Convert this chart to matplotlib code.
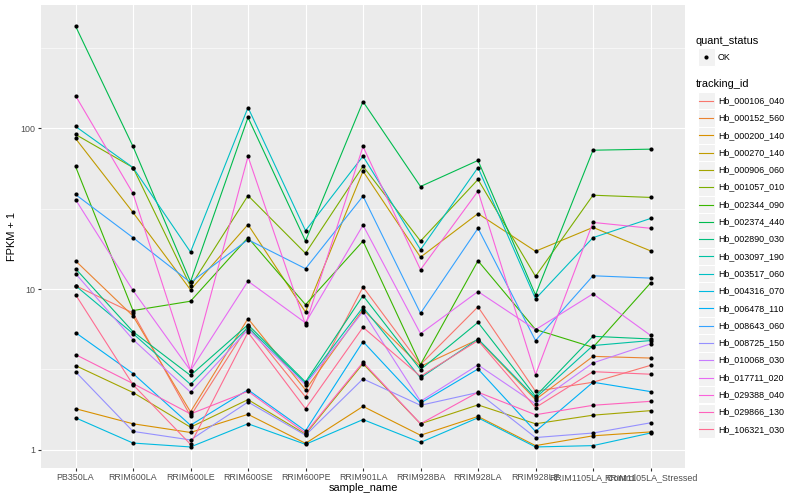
import matplotlib
matplotlib.use("Agg")
import matplotlib.pyplot as plt
from matplotlib.patches import Rectangle
from matplotlib.lines import Line2D
import numpy as np

plt.rcParams['font.family'] = ['Liberation Sans', 'DejaVu Sans']

samples = ["PB350LA", "RRIM600LA", "RRIM600LE", "RRIM600SE", "RRIM600PE",
           "RRIM901LA", "RRIM928BA", "RRIM928LA", "RRIM928LE",
           "RRIM1105LA_Control", "RRIM1105LA_Stressed"]

tracking_ids = ["Hb_000106_040", "Hb_000152_560", "Hb_000200_140", "Hb_000270_140",
                "Hb_000906_060", "Hb_001057_010", "Hb_002344_090", "Hb_002374_440",
                "Hb_002890_030", "Hb_003097_190", "Hb_003517_060", "Hb_004316_070",
                "Hb_006478_110", "Hb_008643_060", "Hb_008725_150", "Hb_010068_030",
                "Hb_017711_020", "Hb_029388_040", "Hb_029866_130", "Hb_106321_030"]

# FPKM + 1 per sample
hb_000106_040 = [10.5, 7.1, 1.62, 5.9, 2.13, 10.3, 3.39, 7.75, 2.31, 2.63, 3.35]
hb_000152_560 = [15.0, 6.8, 1.72, 6.55, 2.36, 7.45, 3.3, 4.85, 2.05, 3.81, 3.72]
hb_000200_140 = [1.8, 1.45, 1.28, 1.66, 1.095, 1.86, 1.23, 1.61, 1.06, 1.22, 1.29]
hb_000270_140 = [86.6, 30.0, 9.9, 25.2, 7.2, 54.2, 15.8, 29.5, 17.2, 24.2, 17.3]
hb_000906_060 = [3.34, 2.27, 1.38, 2.05, 1.25, 3.43, 1.45, 1.9, 1.45, 1.64, 1.75]
hb_001057_010 = [91.8, 57.1, 10.4, 38.2, 16.7, 58.2, 19.9, 48.1, 12.0, 38.4, 37.2]
hb_002344_090 = [58.0, 7.35, 8.4, 20.9, 8.0, 19.9, 3.39, 15.0, 5.6, 4.34, 10.9]
hb_002374_440 = [434, 77.2, 11.1, 117, 19.9, 147, 43.5, 63.2, 9.2, 73.2, 74.3]
hb_002890_030 = [13.4, 5.43, 2.9, 6.0, 2.64, 9.1, 3.15, 6.2, 2.15, 5.08, 4.89]
hb_003097_190 = [10.5, 5.28, 2.55, 5.78, 2.6, 7.7, 2.8, 4.89, 2.1, 4.45, 4.78]
hb_003517_060 = [103, 57.1, 17.0, 135, 23.1, 67.2, 17.6, 57.1, 8.7, 20.9, 27.5]
hb_004316_070 = [1.58, 1.1, 1.04, 1.45, 1.08, 1.54, 1.11, 1.58, 1.04, 1.06, 1.27]
hb_006478_110 = [5.36, 2.98, 1.42, 2.36, 1.31, 4.71, 1.95, 3.18, 1.3, 2.63, 2.3]
hb_008643_060 = [38.8, 20.9, 11.0, 20.3, 13.4, 37.9, 7.07, 23.9, 4.78, 12.1, 11.7]
hb_008725_150 = [3.06, 1.3, 1.15, 1.98, 1.23, 2.76, 1.89, 2.27, 1.19, 1.27, 1.47]
hb_010068_030 = [12.5, 4.85, 2.28, 5.59, 2.54, 7.24, 2.0, 3.37, 1.93, 3.47, 4.56]
hb_017711_020 = [36.1, 9.8, 3.11, 11.2, 6.16, 25.0, 5.28, 9.65, 5.59, 9.34, 5.15]
hb_029388_040 = [160, 39.4, 3.11, 66.9, 6.0, 77.2, 13.2, 40.7, 2.93, 26.0, 23.9]
hb_029866_130 = [3.91, 2.58, 1.67, 2.31, 1.27, 3.5, 1.45, 2.28, 1.65, 1.89, 2.0]
hb_106321_030 = [9.24, 2.54, 1.08, 5.38, 1.8, 5.78, 2.86, 4.78, 1.83, 3.06, 2.95]

series = [hb_000106_040, hb_000152_560, hb_000200_140, hb_000270_140, hb_000906_060,
          hb_001057_010, hb_002344_090, hb_002374_440, hb_002890_030, hb_003097_190,
          hb_003517_060, hb_004316_070, hb_006478_110, hb_008643_060, hb_008725_150,
          hb_010068_030, hb_017711_020, hb_029388_040, hb_029866_130, hb_106321_030]

# ggplot hue palette, 20 levels
colors = ["#F8766D", "#EA8331", "#D89000", "#C09B00", "#A3A500", "#7CAE00", "#39B600",
          "#00BB4E", "#00BF7D", "#00C1A3", "#00BFC4", "#00BAE0", "#00B0F6", "#35A2FF",
          "#9590FF", "#C77CFF", "#E76BF3", "#FA62DB", "#FF62BC", "#FF6C91"]

W, H = 800, 500
fig = plt.figure(figsize=(8, 5), dpi=100)
ax = fig.add_axes([41 / W, 32 / H, 644 / W, 463 / H])
ax.set_facecolor("#EBEBEB")
for s in ax.spines.values():
    s.set_visible(False)

for vals, c in zip(series, colors):
    ax.plot(samples, vals, color=c, lw=0.8, zorder=2)
for vals in series:
    ax.plot(samples, vals, 'o', color='black', ms=3.0, mew=0, zorder=3)

ax.set_yscale('log')
logs = np.log10(np.concatenate([np.array(v, float) for v in series]))
lo, hi = logs.min(), logs.max()
pad = 0.05 * (hi - lo)
ax.set_ylim(10 ** (lo - pad), 10 ** (hi + pad))
ax.set_xlim(-0.6, len(samples) - 0.4)

ax.set_yticks([1, 10, 100], labels=["1", "10", "100"])
ax.set_yticks([10 ** 0.5, 10 ** 1.5, 10 ** 2.5], labels=["", "", ""], minor=True)
ax.grid(which='major', color='white', lw=0.8)
ax.grid(which='minor', axis='y', color='white', lw=0.4)
ax.set_axisbelow(True)
ax.tick_params(which='major', length=2.0, width=0.8, color='#333333',
               labelsize=6.4, labelcolor='#4D4D4D', pad=1.8)
ax.tick_params(which='minor', length=0)

fig.text(12 / W, 1 - 236.5 / H, "FPKM + 1", rotation=90, ha='center', va='center',
         fontsize=7.9, color='black')
fig.text(363 / W, 1 - 488 / H, "sample_name", ha='center', va='center',
         fontsize=7.9, color='black')

# legends, drawn ggplot style
def key_box(yc):
    fig.add_artist(Rectangle(((697.5) / W, 1 - (yc + 8.6) / H), 17.2 / W, 17.2 / H,
                             transform=fig.transFigure, facecolor='#F2F2F2',
                             edgecolor='white', lw=0.8))

fig.text(696 / W, 1 - 40.5 / H, "quant_status", ha='left', va='center', fontsize=7.9)
key_box(57)
fig.add_artist(Line2D([706 / W], [1 - 57 / H], marker='o', color='black', ms=3.0,
                      mew=0, transform=fig.transFigure))
fig.text(718 / W, 1 - 57 / H, "OK", ha='left', va='center', fontsize=6.4)

fig.text(696 / W, 1 - 84 / H, "tracking_id", ha='left', va='center', fontsize=7.9)
for i, (name, c) in enumerate(zip(tracking_ids, colors)):
    yc = 100.7 + 17.3 * i
    key_box(yc)
    fig.add_artist(Line2D([699 / W, 713 / W], [1 - yc / H, 1 - yc / H], color=c, lw=0.8,
                          transform=fig.transFigure))
    fig.text(718 / W, 1 - yc / H, name, ha='left', va='center', fontsize=6.4)

fig.savefig("out.png", dpi=100)
